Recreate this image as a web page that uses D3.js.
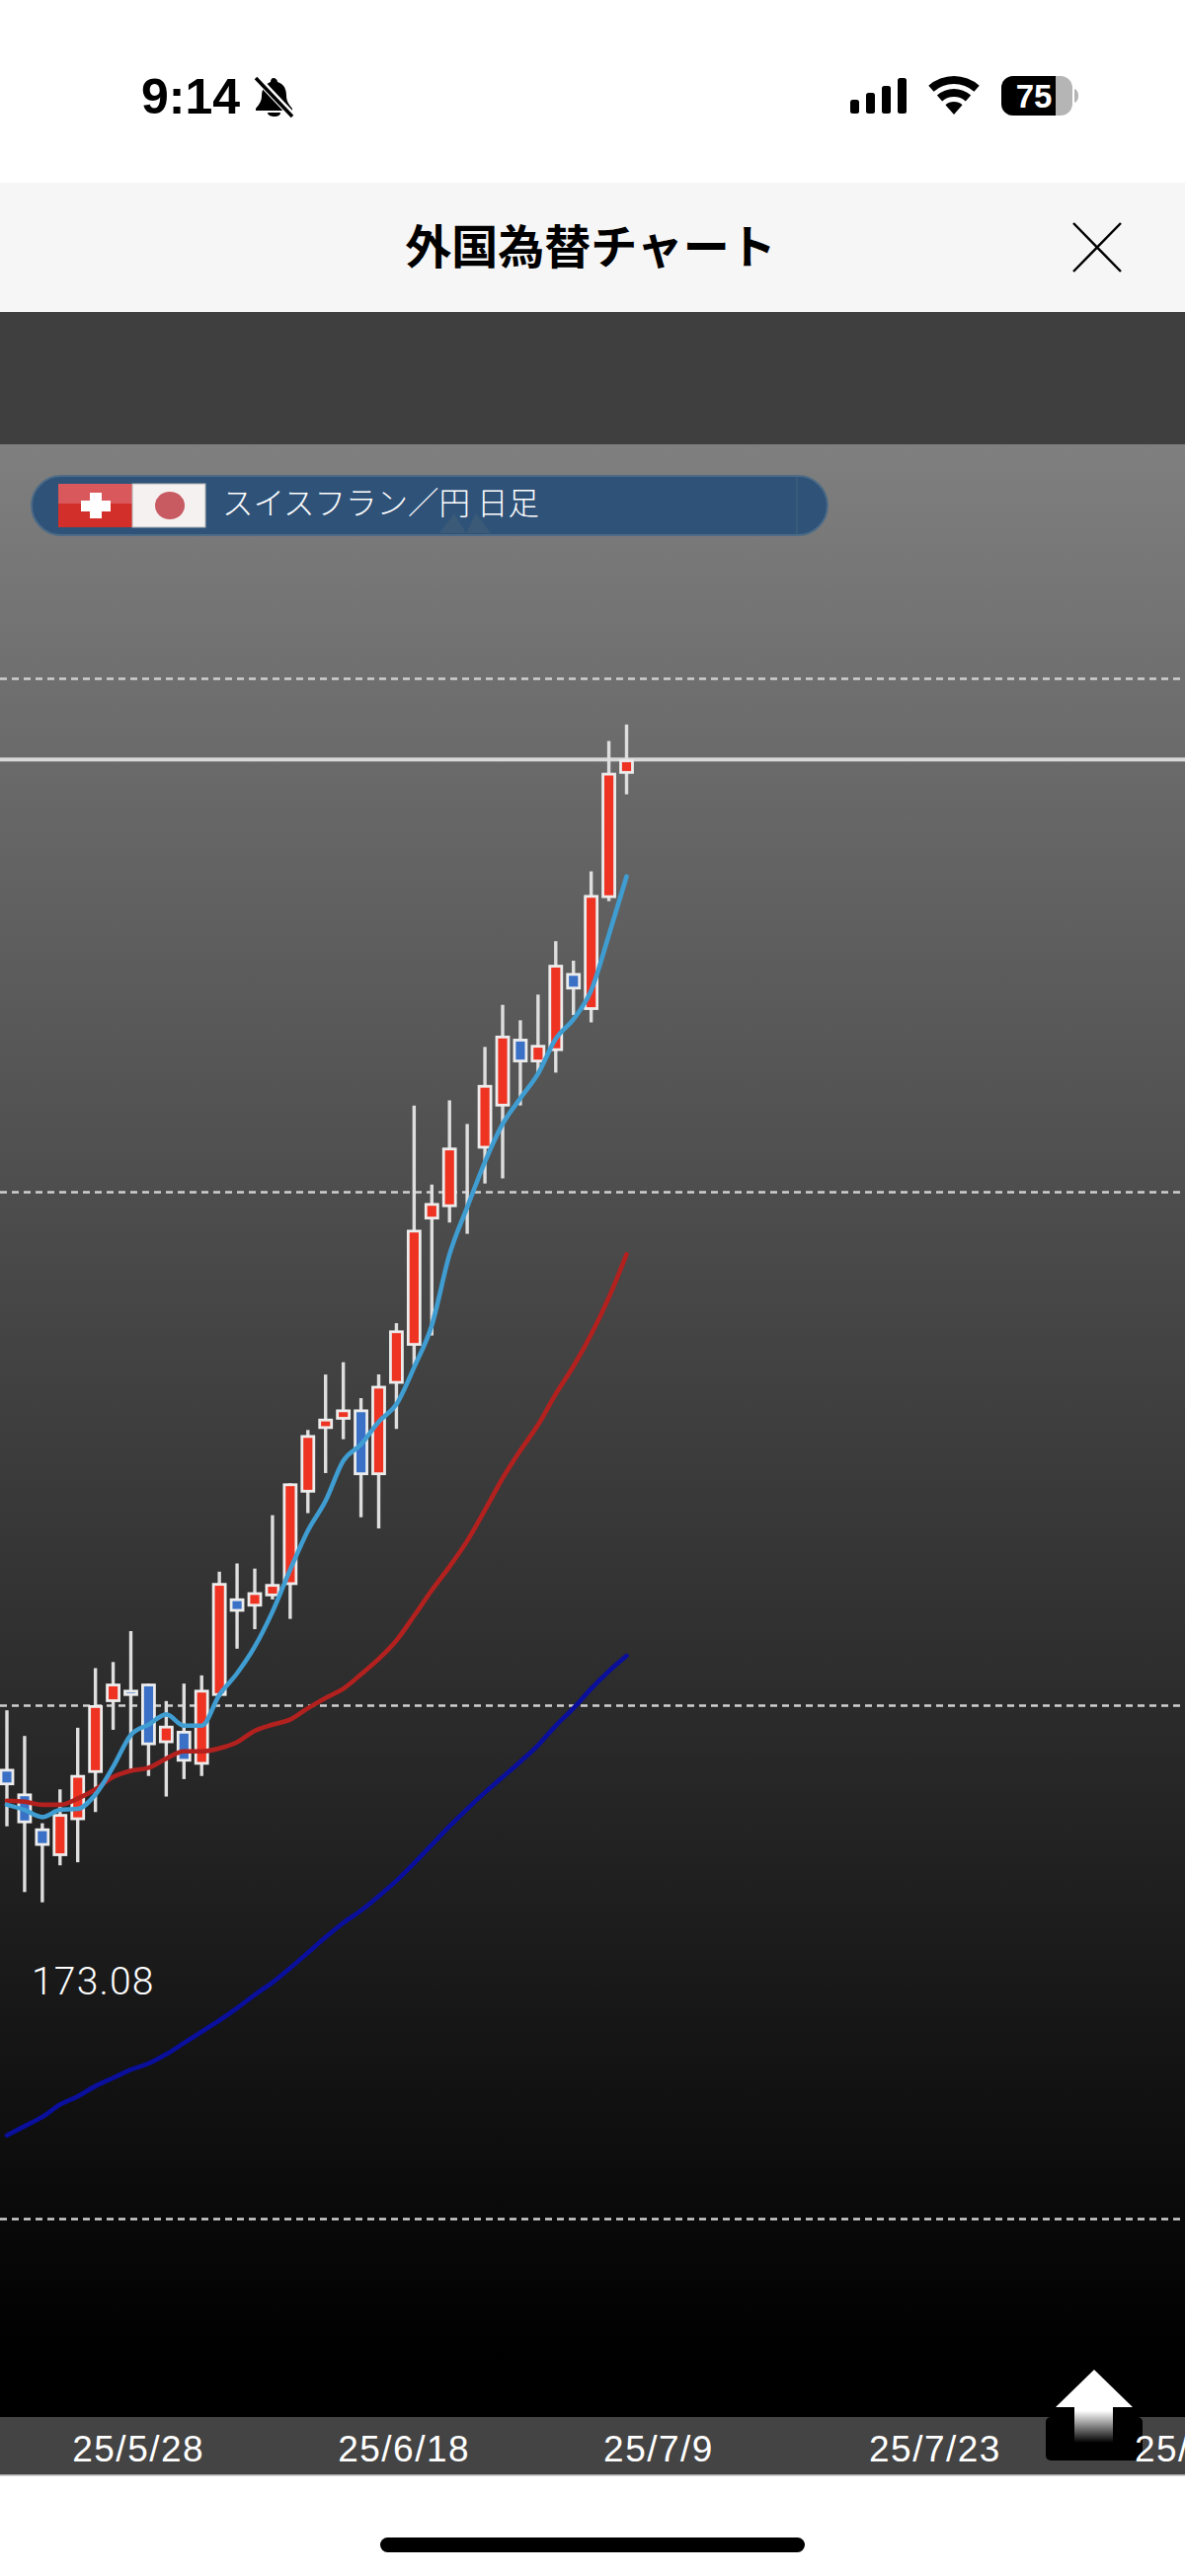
<!DOCTYPE html>
<html lang="ja">
  <head>
    <meta charset="UTF-8" />
    <title>外国為替チャート</title>
    <style>
      html,
      body {
        margin: 0;
        padding: 0;
        background: #fff;
      }
      svg {
        display: block;
      }
      .date-axis text {
        font-family: "Liberation Sans", sans-serif;
        font-size: 37px;
        letter-spacing: 1.5px;
        fill: #fff;
      }
    </style>
  </head>
  <body>
    <svg id="chart"></svg>
    <script src="https://cdnjs.cloudflare.com/ajax/libs/d3/7.4.4/d3.min.js"></script>
    <script>
      const W = 1200;
      const H = 2609;

      // daily candles, one entry per bar (red = up, blue = down)
      const open = [174.38, 174.14, 173.80, 173.53, 173.88, 174.34, 175.03, 175.15, 175.21, 174.63, 174.75, 174.42, 175.09, 176.04, 175.96, 176.06, 176.17, 177.07, 177.69, 177.78, 177.88, 177.24, 178.13, 178.50, 179.73, 179.85, 180.42, 180.42, 180.83, 181.49, 181.26, 181.37, 182.13, 181.77, 182.86, 184.07];
      const close = [174.22, 173.85, 173.63, 173.94, 174.32, 175.00, 175.21, 175.09, 174.61, 174.80, 174.45, 175.15, 176.19, 175.91, 176.10, 176.18, 177.16, 177.63, 177.79, 177.88, 177.24, 178.11, 178.65, 179.63, 179.89, 180.43, 180.44, 181.04, 181.52, 181.26, 181.43, 182.21, 181.97, 182.89, 184.08, 184.21];
      const high = [174.95, 174.70, 173.85, 174.18, 174.78, 175.36, 175.42, 175.72, 175.21, 175.04, 175.21, 175.29, 176.30, 176.38, 176.33, 176.85, 177.16, 177.68, 178.22, 178.34, 177.99, 178.22, 178.72, 180.84, 180.07, 180.89, 180.66, 181.41, 181.82, 181.67, 181.92, 182.44, 182.25, 183.12, 184.39, 184.55];
      const low = [173.82, 173.18, 173.08, 173.44, 173.47, 173.96, 174.76, 174.35, 174.31, 174.11, 174.28, 174.31, 175.08, 175.55, 175.74, 176.03, 175.84, 176.87, 177.26, 177.59, 176.83, 176.72, 177.69, 178.31, 178.60, 179.70, 179.59, 180.08, 180.13, 180.84, 181.14, 181.16, 181.72, 181.65, 182.83, 183.87];

      // moving averages
      const maShort = [174.03, 173.98, 173.91, 173.98, 173.99, 174.13, 174.40, 174.71, 174.81, 174.91, 174.80, 174.80, 175.10, 175.31, 175.57, 175.91, 176.32, 176.70, 176.99, 177.38, 177.54, 177.76, 177.93, 178.29, 178.70, 179.39, 179.85, 180.29, 180.66, 180.91, 181.15, 181.49, 181.68, 181.96, 182.50, 183.07];
      const maMid = [174.07, 174.06, 174.03, 174.03, 174.09, 174.18, 174.30, 174.36, 174.39, 174.48, 174.55, 174.55, 174.58, 174.64, 174.75, 174.81, 174.86, 174.97, 175.07, 175.16, 175.30, 175.45, 175.63, 175.87, 176.12, 176.35, 176.60, 176.90, 177.21, 177.48, 177.73, 178.03, 178.30, 178.61, 178.97, 179.39];
      const maLong = [170.81, 170.90, 170.99, 171.11, 171.19, 171.29, 171.37, 171.45, 171.51, 171.60, 171.71, 171.82, 171.93, 172.05, 172.18, 172.30, 172.44, 172.59, 172.74, 172.88, 173.00, 173.14, 173.29, 173.46, 173.64, 173.82, 173.99, 174.15, 174.30, 174.45, 174.61, 174.80, 174.97, 175.16, 175.33, 175.48];

      const priceGrid = [170, 175, 180, 185];
      const dateBars = [4, 19, 34, 49, 64];
      const dateLabels = ["25/5/28", "25/6/18", "25/7/9", "25/7/23", "25/"];
      const lowLabel = "173.08";

      const x = d3.scaleLinear().domain([0, 35]).range([7, 634.5]);
      const y = d3.scaleLinear().domain([170, 185]).range([2247, 687]);

      const svg = d3.select("#chart").attr("width", W).attr("height", H);

      const defs = svg.append("defs");
      const bgGrad = defs
        .append("linearGradient")
        .attr("id", "bg")
        .attr("x1", 0)
        .attr("x2", 0)
        .attr("y1", 0)
        .attr("y2", 1);
      bgGrad.append("stop").attr("offset", 0).attr("stop-color", "#7f7f7f");
      bgGrad.append("stop").attr("offset", 0.97).attr("stop-color", "#000");
      bgGrad.append("stop").attr("offset", 1).attr("stop-color", "#000");

      const stemGrad = defs
        .append("linearGradient")
        .attr("id", "stem")
        .attr("x1", 0)
        .attr("x2", 0)
        .attr("y1", 0)
        .attr("y2", 1);
      stemGrad.append("stop").attr("offset", 0.1).attr("stop-color", "#fff");
      stemGrad.append("stop").attr("offset", 1).attr("stop-color", "#000");

      // page bands
      svg.append("rect").attr("width", W).attr("height", H).attr("fill", "#fff");
      svg.append("rect").attr("y", 185).attr("width", W).attr("height", 132).attr("fill", "#f6f6f6");
      svg.append("rect").attr("y", 316).attr("width", W).attr("height", 134).attr("fill", "#3f3f3f");
      svg.append("rect").attr("y", 450).attr("width", W).attr("height", 1998).attr("fill", "url(#bg)");
      svg.append("rect").attr("y", 2448).attr("width", W).attr("height", 59).attr("fill", "#444");
      svg.append("rect").attr("y", 2506).attr("width", W).attr("height", 1.5).attr("fill", "#aaa");

      // status bar
      svg
        .append("text")
        .attr("x", 143)
        .attr("y", 115)
        .attr("font-family", "Liberation Sans")
        .attr("font-weight", 700)
        .attr("font-size", 50)
        .text("9:14");
      const bell = svg.append("g").attr("transform", "translate(258,77)");
      bell
        .append("path")
        .attr("d", "M19 2c2 0 4 2 4 4 7 2 9 8 9 14 0 6 3 9 6 13v2H1v-2c3-4 6-7 6-13 0-6 3-12 9-14 0-2 1-4 3-4zM13 37h13c0 3-3 4-6 4s-7-1-7-4z");
      bell
        .append("line")
        .attr("x1", 2)
        .attr("y1", 2)
        .attr("x2", 38)
        .attr("y2", 40)
        .attr("stroke", "#fff")
        .attr("stroke-width", 7);
      bell
        .append("line")
        .attr("x1", 1)
        .attr("y1", 2)
        .attr("x2", 38)
        .attr("y2", 41)
        .attr("stroke", "#000")
        .attr("stroke-width", 3.5);

      svg
        .append("g")
        .selectAll("rect")
        .data([14, 21, 28, 36])
        .join("rect")
        .attr("x", (d, i) => 861 + i * 16)
        .attr("y", (d) => 115 - d)
        .attr("width", 9)
        .attr("height", (d) => d)
        .attr("rx", 2.5);

      const wifi = svg.append("g").attr("transform", "translate(966,116)");
      wifi
        .selectAll("path")
        .data([
          [0, 13],
          [18, 26],
          [31, 39],
        ])
        .join("path")
        .attr("d", (d) =>
          d3.arc()({
            innerRadius: d[0],
            outerRadius: d[1],
            startAngle: -0.72,
            endAngle: 0.72,
          })
        );

      svg.append("rect").attr("x", 1014).attr("y", 77).attr("width", 72).attr("height", 40).attr("rx", 12).attr("fill", "#b5b5b5");
      svg.append("path").attr("d", "M1026 77H1069V117H1026a12 12 0 0 1-12-12V89a12 12 0 0 1 12-12z");
      svg.append("path").attr("d", "M1088 90c3 1 4 4 4 7s-1 6-4 7z").attr("fill", "#b5b5b5");
      svg
        .append("text")
        .attr("x", 1047)
        .attr("y", 109)
        .attr("text-anchor", "middle")
        .attr("font-family", "Liberation Sans")
        .attr("font-weight", 700)
        .attr("font-size", 33)
        .attr("fill", "#fff")
        .text("75");

      // header
      svg
        .append("text")
        .attr("x", 598)
        .attr("y", 267)
        .attr("text-anchor", "middle")
        .attr("font-family", "Noto Sans CJK JP")
        .attr("font-weight", 700)
        .attr("font-size", 47)
        .text("外国為替チャート");
      svg
        .append("path")
        .attr("d", "M1087 226L1135 275M1135 226L1087 275")
        .attr("stroke", "#000")
        .attr("stroke-width", 2.5);

      // price grid
      const grid = svg
        .append("g")
        .attr("class", "grid")
        .call(d3.axisRight(y).tickValues(priceGrid).tickSize(W).tickFormat(""));
      grid.select(".domain").remove();
      grid
        .selectAll("line")
        .attr("stroke", "#cfcfcf")
        .attr("stroke-width", 2.6)
        .attr("stroke-dasharray", "7 5");

      // last price line
      svg
        .append("line")
        .attr("x1", 0)
        .attr("x2", W)
        .attr("y1", y(close[close.length - 1]))
        .attr("y2", y(close[close.length - 1]))
        .attr("stroke", "#d8d8d8")
        .attr("stroke-width", 4);

      // pair label
      svg.append("rect").attr("x", 32).attr("y", 482).attr("width", 806).attr("height", 60).attr("rx", 30).attr("fill", "#2f5278").attr("stroke", "#4d6b86").attr("stroke-width", 2);
      svg.append("line").attr("x1", 807).attr("x2", 807).attr("y1", 483).attr("y2", 541).attr("stroke", "#46627c").attr("stroke-width", 1);
      svg.append("path").attr("d", "M445 540L460 520L472 540L482 520L497 540z").attr("fill", "#3a5a78");
      svg.append("rect").attr("x", 59).attr("y", 490).attr("width", 75).attr("height", 44).attr("fill", "#d22f2a");
      svg.append("rect").attr("x", 59).attr("y", 490).attr("width", 75).attr("height", 20).attr("fill", "#d9585c");
      svg.append("rect").attr("x", 82).attr("y", 507).attr("width", 30).attr("height", 11).attr("fill", "#fff");
      svg.append("rect").attr("x", 91).attr("y", 499).attr("width", 12).attr("height", 26).attr("fill", "#fff");
      svg.append("rect").attr("x", 134).attr("y", 490).attr("width", 74).attr("height", 44).attr("fill", "#f4f1f0").attr("stroke", "#b4b4b4").attr("stroke-width", 1);
      svg.append("ellipse").attr("cx", 172).attr("cy", 512).attr("rx", 15).attr("ry", 14).attr("fill", "#c85a62");
      svg
        .append("text")
        .attr("x", 225)
        .attr("y", 521)
        .attr("font-family", "Noto Sans CJK JP")
        .attr("font-weight", 300)
        .attr("font-size", 31.5)
        .attr("fill", "#fff")
        .text("スイスフラン／円 日足");

      // candles
      const bars = d3.range(open.length);
      const candles = svg.append("g").selectAll("g").data(bars).join("g");

      candles
        .append("line")
        .attr("x1", (i) => x(i))
        .attr("x2", (i) => x(i))
        .attr("y1", (i) => y(high[i]))
        .attr("y2", (i) => y(low[i]))
        .attr("stroke", "#dedede")
        .attr("stroke-width", 3.4);

      candles
        .append("rect")
        .attr("x", (i) => x(i) - 6)
        .attr("width", 12)
        .attr("y", (i) => y(Math.max(open[i], close[i])) + 1.4)
        .attr("height", (i) =>
          Math.max(0, Math.abs(y(open[i]) - y(close[i])) - 2.8)
        )
        .attr("fill", (i) => (close[i] >= open[i] ? "#ee3322" : "#3a70c6"))
        .attr("stroke", "#ececec")
        .attr("stroke-width", 2.8);

      // moving averages
      const maLine = d3
        .line()
        .x((d, i) => x(i))
        .y((d) => y(d))
        .curve(d3.curveMonotoneX);

      svg
        .append("g")
        .attr("fill", "none")
        .attr("stroke-width", 4.6)
        .attr("stroke-linecap", "round")
        .selectAll("path")
        .data([
          { values: maLong, color: "#0a0f9c" },
          { values: maMid, color: "#b3211f" },
          { values: maShort, color: "#3f9dd2" },
        ])
        .join("path")
        .attr("d", (d) => maLine(d.values))
        .attr("stroke", (d) => d.color);

      // low price label
      svg
        .append("text")
        .attr("x", 32)
        .attr("y", 2020)
        .attr("font-family", "Roboto")
        .attr("font-weight", 300)
        .attr("font-size", 39)
        .attr("letter-spacing", 1.2)
        .attr("fill", "#fff")
        .text(lowLabel);

      // scroll button, sits under the last date label
      svg.append("rect").attr("x", 1059).attr("y", 2448).attr("width", 98).attr("height", 44).attr("rx", 5).attr("fill", "#000");
      svg.append("path").attr("d", "M1108 2400L1147 2438H1069z").attr("fill", "#fff");
      svg.append("rect").attr("x", 1088).attr("y", 2438).attr("width", 39).attr("height", 36).attr("fill", "url(#stem)");

      // date axis
      const dateAxis = svg
        .append("g")
        .attr("class", "date-axis")
        .attr("transform", "translate(0,2448)")
        .call(
          d3
            .axisBottom(x)
            .tickValues(dateBars)
            .tickSize(0)
            .tickFormat((d, i) => dateLabels[i])
        );
      dateAxis.select(".domain").remove();
      dateAxis
        .selectAll("text")
        .attr("text-anchor", "start")
        .attr("dx", -6)
        .attr("y", 45)
        .attr("dy", 0);

      // home indicator
      svg.append("rect").attr("x", 385).attr("y", 2570).attr("width", 430).attr("height", 15).attr("rx", 7.5);
    </script>
  </body>
</html>
